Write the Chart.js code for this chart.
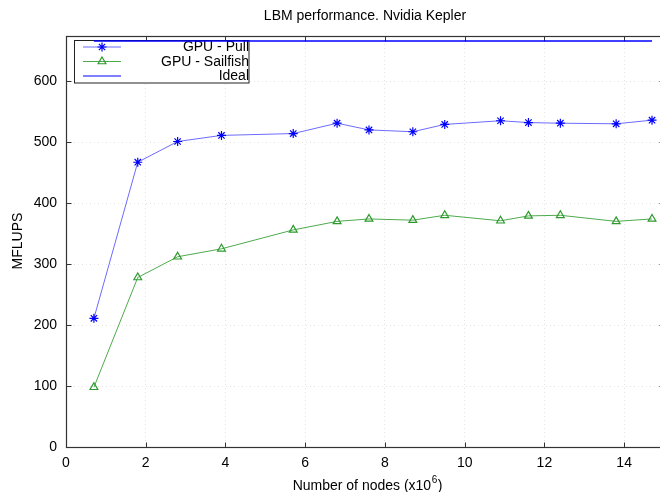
<!DOCTYPE html>
<html>
<head>
<meta charset="utf-8">
<script src="https://cdn.jsdelivr.net/npm/chart.js@4/dist/chart.umd.min.js"></script>
<style>
    html, body { margin: 0; padding: 0; background: #fff; overflow: hidden; }
    #wrap { width: 672px; height: 492px; position: relative; }
</style>
</head>
<body>
<div id="wrap"><canvas id="chart"></canvas></div>
<script>
// values
const nodes = [0.7, 1.8, 2.8, 3.9, 5.7, 6.8, 7.6, 8.7, 9.5, 10.9, 11.6, 12.4, 13.8, 14.7];
const pull = [211, 467, 501, 511, 514, 531, 520, 517, 529, 535, 532, 531, 530, 536];
const sailfish = [98, 278, 312, 325, 356, 370, 374, 372, 380, 371, 379, 380, 370, 374];
const idealX = [0.7, 14.7];
const idealY = [666, 666];
const xTicks = [0, 2, 4, 6, 8, 10, 12, 14];
const yTicks = [0, 100, 200, 300, 400, 500, 600];

const FONT = "'Liberation Sans', Arial, sans-serif";

function pts(xs, ys) {
    return xs.map((x, i) => ({ x: x, y: ys[i] }));
}

function marker(ctx, style, x, y, r, color) {
    ctx.save();
    ctx.strokeStyle = color;
    ctx.lineWidth = 1.2;
    ctx.beginPath();
    if (style === "star") {
        const d = r * Math.SQRT1_2;
        ctx.moveTo(x - r, y); ctx.lineTo(x + r, y);
        ctx.moveTo(x, y - r); ctx.lineTo(x, y + r);
        ctx.moveTo(x - d, y - d); ctx.lineTo(x + d, y + d);
        ctx.moveTo(x - d, y + d); ctx.lineTo(x + d, y - d);
    } else if (style === "triangle") {
        const h = r * Math.sqrt(3) / 2;
        ctx.moveTo(x, y - r);
        ctx.lineTo(x + h, y + r / 2);
        ctx.lineTo(x - h, y + r / 2);
        ctx.closePath();
    }
    ctx.stroke();
    ctx.restore();
}

const framePlugin = {
    id: "frame",
    beforeDatasetsDraw(chart) {
        const ctx = chart.ctx;
        const a = chart.chartArea;
        const L = Math.round(a.left) + 0.5, R = Math.round(a.right) + 0.5;
        const T = Math.round(a.top) + 0.5, B = Math.round(a.bottom) + 0.5;
        ctx.save();
        ctx.strokeStyle = "#333";
        ctx.lineWidth = 1.2;
        ctx.strokeRect(L, T, R - L, B - T);
        ctx.lineWidth = 1;
        ctx.beginPath();
        xTicks.forEach(v => {
            const x = Math.round(chart.scales.x.getPixelForValue(v)) + 0.5;
            ctx.moveTo(x, B); ctx.lineTo(x, B - 5);
            ctx.moveTo(x, T); ctx.lineTo(x, T + 5);
        });
        yTicks.forEach(v => {
            const y = Math.round(chart.scales.y.getPixelForValue(v)) + 0.5;
            ctx.moveTo(L, y); ctx.lineTo(L + 5, y);
            ctx.moveTo(R, y); ctx.lineTo(R - 5, y);
        });
        ctx.stroke();

        // key box
        const bx = 74.5, by = 40.5, bw = 174.5, bh = 42.5;
        ctx.fillStyle = "#fff";
        ctx.fillRect(bx, by, bw, bh);
        ctx.strokeStyle = "#222";
        ctx.lineWidth = 1;
        ctx.strokeRect(bx, by, bw, bh);
        ctx.font = "14px " + FONT;
        ctx.textAlign = "right";
        ctx.textBaseline = "middle";
        const rows = [47, 61.5, 76];
        chart.data.datasets.forEach((ds, i) => {
            const y = rows[i];
            ctx.strokeStyle = ds.keyColor || ds.borderColor;
            ctx.lineWidth = ds.keyWidth || 1;
            ctx.beginPath();
            ctx.moveTo(83, y); ctx.lineTo(121, y);
            ctx.stroke();
            if (ds.pointStyle && ds.pointRadius > 0) {
                marker(ctx, ds.pointStyle, 102, y, 4.5, ds.pointBorderColor);
            }
            ctx.fillStyle = "#000";
            ctx.fillText(ds.label, 249, y + 0.5);
        });
        ctx.restore();
    },
    afterDraw(chart) {
        const ctx = chart.ctx;
        const a = chart.chartArea;
        const cx = (a.left + a.right) / 2;
        ctx.save();
        ctx.fillStyle = "#000";
        ctx.textBaseline = "middle";
        ctx.textAlign = "center";
        ctx.font = "14px " + FONT;
        ctx.fillText("LBM performance. Nvidia Kepler", cx, 16);

        // x title with superscript
        const p1 = "Number of nodes (x10", p2 = "6", p3 = ")";
        ctx.font = "14px " + FONT;
        const w1 = ctx.measureText(p1).width, w3 = ctx.measureText(p3).width;
        ctx.font = "10px " + FONT;
        const w2 = ctx.measureText(p2).width;
        let x = cx + 2 - (w1 + w2 + w3) / 2;
        ctx.textAlign = "left";
        ctx.font = "14px " + FONT;
        ctx.fillText(p1, x, 486);
        ctx.font = "10px " + FONT;
        ctx.fillText(p2, x + w1 + 0.5, 480);
        ctx.font = "14px " + FONT;
        ctx.fillText(p3, x + w1 + w2 + 1, 486);

        ctx.translate(18, 241);
        ctx.rotate(-Math.PI / 2);
        ctx.textAlign = "center";
        ctx.fillText("MFLUPS", 0, 0);
        ctx.restore();
    }
};

const ctx = document.getElementById("chart").getContext("2d");

new Chart(ctx, {
    type: "line",
    data: {
        datasets: [{
            label: "GPU - Pull",
            data: pts(nodes, pull),
            borderColor: "#6b6bff",
            borderWidth: 1,
            pointStyle: "star",
            pointRadius: 4.5,
            pointBorderColor: "#0000ff",
            pointBorderWidth: 1.2,
            pointBackgroundColor: "#0000ff",
            tension: 0,
            fill: false
        }, {
            label: "GPU - Sailfish",
            data: pts(nodes, sailfish),
            borderColor: "#4daa4d",
            borderWidth: 1,
            pointStyle: "triangle",
            pointRadius: 4.5,
            pointBorderColor: "#2e9a2e",
            pointBorderWidth: 1.2,
            pointBackgroundColor: "rgba(0,0,0,0)",
            tension: 0,
            fill: false
        }, {
            label: "Ideal",
            data: pts(idealX, idealY),
            borderColor: "#0000ff",
            keyColor: "#8080ff",
            keyWidth: 2,
            borderWidth: 1.5,
            pointRadius: 0,
            tension: 0,
            fill: false
        }]
    },
    options: {
        responsive: true,
        maintainAspectRatio: false,
        animation: false,
        layout: { padding: { top: 36, right: 8, bottom: 0, left: 0 } },
        plugins: {
            legend: { display: false },
            title: { display: false },
            tooltip: { enabled: false }
        },
        scales: {
            x: {
                type: "linear",
                min: 0,
                max: 15,
                afterBuildTicks: s => { s.ticks = xTicks.map(v => ({ value: v })); },
                afterFit: s => { s.height = 45; },
                grid: { color: "#e4e4e4", drawTicks: false },
                border: { display: false, dash: [1, 3] },
                ticks: { color: "#000", padding: 8, font: { size: 14, family: FONT }, maxRotation: 0 }
            },
            y: {
                min: 0,
                max: 674,
                afterBuildTicks: s => { s.ticks = yTicks.map(v => ({ value: v })); },
                afterFit: s => { s.width = 66; },
                grid: { color: "#e4e4e4", drawTicks: false },
                border: { display: false, dash: [1, 3] },
                ticks: { color: "#000", padding: 9, font: { size: 14, family: FONT } }
            }
        }
    },
    plugins: [framePlugin]
});
</script>
</body>
</html>
